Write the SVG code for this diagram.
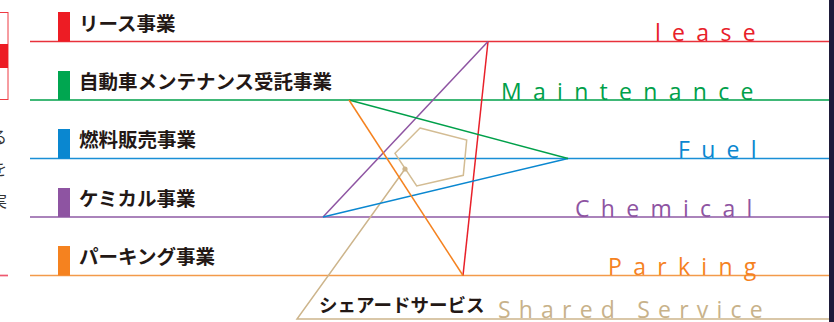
<svg xmlns="http://www.w3.org/2000/svg" width="834" height="322" viewBox="0 0 834 322">
<style>
.jp{font-family:"Noto Sans CJK JP","Noto Sans",sans-serif;font-weight:700;fill:#231815;font-size:19.5px}
.en{font-family:"Open Sans","Liberation Sans",sans-serif;font-weight:400;font-size:23px;letter-spacing:11.3px}
.ln{fill:none;stroke-width:1.7}
.st{fill:none;stroke-width:1.5}
.frag{font-family:"Noto Sans CJK JP",sans-serif;font-size:16px;fill:#333}
</style>
<rect width="834" height="322" fill="#fff"/>
<g id="left-fragment">
<rect x="-10" y="12.5" width="18" height="87" fill="none" stroke="#ee3a43" stroke-width="1"/>
<rect x="0" y="44" width="8" height="24" fill="#ed1c24"/>
<text class="frag" x="-9" y="143">る</text>
<text class="frag" x="-9" y="175">を</text>
<text class="frag" x="-9" y="207">実</text>
<line x1="0" y1="275.5" x2="8" y2="275.5" stroke="#ee5a70" stroke-width="1.7"/>
</g>
<g id="connectors">
<line class="ln" x1="30" y1="41.5" x2="834" y2="41.5" stroke="#e8313b"/>
<line class="ln" x1="30" y1="100" x2="834" y2="100" stroke="#00a04a"/>
<line class="ln" x1="30" y1="158.5" x2="834" y2="158.5" stroke="#1a8fd6"/>
<line class="ln" x1="30" y1="217" x2="834" y2="217" stroke="#8e5aa4"/>
<line class="ln" x1="30" y1="275.5" x2="834" y2="275.5" stroke="#f39a4a"/>
<polyline class="st" points="405,169 297,319 834,319" stroke="#cdb58c"/>
<line class="st" x1="488" y1="41.5" x2="463" y2="275.5" stroke="#e8202a"/>
<line class="st" x1="488" y1="41.5" x2="323" y2="217" stroke="#8e54a2"/>
<line class="st" x1="323" y1="217" x2="568" y2="158.5" stroke="#0a87d0"/>
<line class="st" x1="568" y1="158.5" x2="349" y2="100" stroke="#00a04a"/>
<line class="st" x1="349" y1="100" x2="463" y2="275.5" stroke="#f5821f"/>
<polygon class="st" points="420,128 466.7,140 463.3,175.3 416.7,186 395,153.3" stroke="#d3bc93"/>
<circle cx="405" cy="169" r="2.6" fill="#cdb58c"/>
</g>
<g id="lease">
<rect x="58" y="12" width="12" height="29.5" fill="#ed1c24"/>
<text class="jp" x="79" y="31">リース事業</text>
<text class="en" x="655" y="41" fill="#e8202a">lease</text>
</g>
<g id="maintenance">
<rect x="58" y="71" width="12" height="29" fill="#00a650"/>
<text class="jp" x="79" y="89">自動車メンテナンス受託事業</text>
<text class="en" x="501" y="100" fill="#00a04a">Maintenance</text>
</g>
<g id="fuel">
<rect x="58" y="129" width="12" height="29.5" fill="#0a87d0"/>
<text class="jp" x="79" y="147">燃料販売事業</text>
<text class="en" x="678" y="158" fill="#0a87d0">Fuel</text>
</g>
<g id="chemical">
<rect x="58" y="188" width="12" height="29" fill="#8e54a2"/>
<text class="jp" x="79" y="206">ケミカル事業</text>
<text class="en" x="575" y="217" fill="#8e54a2">Chemical</text>
</g>
<g id="parking">
<rect x="58" y="246" width="12" height="29.5" fill="#f5821f"/>
<text class="jp" x="79" y="264">パーキング事業</text>
<text class="en" x="608" y="275" fill="#f5821f">Parking</text>
</g>
<g id="shared-service">
<text class="jp" x="319" y="312" style="font-size:18.5px">シェアードサービス</text>
<text class="en" x="498" y="318" fill="#c8b28a" style="letter-spacing:8.2px">Shared Service</text>
</g>
<rect x="829" y="0" width="5" height="322" fill="#1e1b3a"/>
</svg>
